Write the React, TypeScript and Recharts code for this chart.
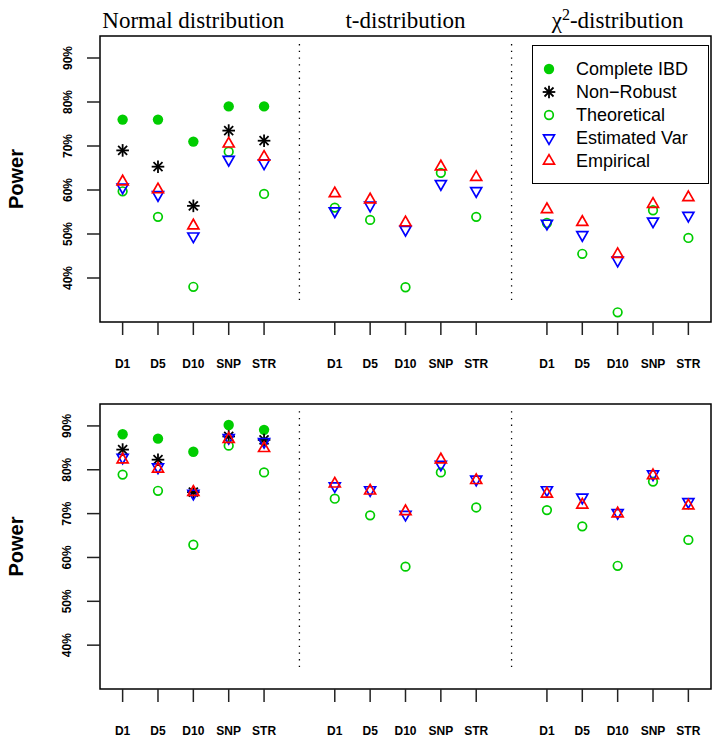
import React from 'react';
import { ScatterChart, Scatter, XAxis, YAxis, ReferenceArea, ReferenceLine, ReferenceDot, Legend } from 'recharts';

const categories = ['D1', 'D5', 'D10', 'SNP', 'STR'];
const distributions = ['Normal distribution', 't-distribution', 'χ2-distribution'];
const yTicks = [40, 50, 60, 70, 80, 90];

// upper panel (one array per distribution: normal, t, chi-square)
const upperCompleteIBD = [76, 76, 71, 79, 79];
const upperNonRobust = [69, 65.3, 56.4, 73.5, 71.2];
const upperTheoretical = [
  [59.7, 53.9, 38.0, 68.7, 59.1],
  [56.0, 53.2, 37.9, 63.9, 53.9],
  [52.5, 45.5, 32.2, 55.4, 49.1],
];
const upperEstimatedVar = [
  [60.6, 58.9, 49.5, 66.9, 66.1],
  [55.2, 56.5, 51.0, 61.4, 59.8],
  [52.4, 49.8, 44.0, 52.9, 54.2],
];
const upperEmpirical = [
  [61.9, 60.1, 51.9, 70.5, 67.5],
  [59.2, 57.8, 52.6, 65.3, 62.9],
  [55.6, 52.7, 45.4, 56.8, 58.3],
];

// lower panel
const lowerCompleteIBD = [88.1, 87.1, 84.1, 90.2, 89.1];
const lowerNonRobust = [84.6, 82.3, 74.9, 87.6, 86.8];
const lowerTheoretical = [
  [78.9, 75.2, 62.9, 85.5, 79.4],
  [73.4, 69.6, 57.9, 79.4, 71.4],
  [70.8, 67.1, 58.1, 77.3, 64.0],
];
const lowerEstimatedVar = [
  [82.8, 80.6, 74.6, 87.3, 86.4],
  [76.3, 75.4, 69.8, 81.2, 77.8],
  [75.4, 73.7, 70.2, 79.0, 72.7],
];
const lowerEmpirical = [
  [82.3, 80.2, 74.9, 87.0, 84.9],
  [76.8, 75.2, 70.5, 82.3, 77.6],
  [74.5, 72.0, 70.0, 78.7, 71.8],
];

const GREEN = '#00CD00';
const SANS = '"Liberation Sans", Arial, sans-serif';
const SERIF = '"Liberation Serif", "Times New Roman", serif';

// x position: 5 categories per group, one empty slot between groups
const xPos = (g: number, i: number) => g * 6 + i + 1;
const toPoints = (groups: number[][]) =>
  groups.flatMap((vals, g) => vals.map((v, i) => ({ x: xPos(g, i), y: v })));

const xTicks = distributions.flatMap((_, g) => categories.map((_, i) => xPos(g, i)));
const dividers = [6, 12];

const FilledDot = ({ cx, cy }: any) => <circle cx={cx} cy={cy} r={5.2} fill={GREEN} />;
const OpenDot = ({ cx, cy }: any) => (
  <circle cx={cx} cy={cy} r={4.3} fill="none" stroke={GREEN} strokeWidth={1.7} />
);
const Star = ({ cx, cy }: any) => {
  const a = 6.3;
  const b = 4.5;
  return (
    <g stroke="#000" strokeWidth={1.8}>
      <line x1={cx - a} y1={cy} x2={cx + a} y2={cy} />
      <line x1={cx} y1={cy - a} x2={cx} y2={cy + a} />
      <line x1={cx - b} y1={cy - b} x2={cx + b} y2={cy + b} />
      <line x1={cx - b} y1={cy + b} x2={cx + b} y2={cy - b} />
    </g>
  );
};
const TriUp = ({ cx, cy }: any) => (
  <polygon
    points={`${cx},${cy - 6.4} ${cx + 5.5},${cy + 3.2} ${cx - 5.5},${cy + 3.2}`}
    fill="none"
    stroke="#FF0000"
    strokeWidth={1.7}
  />
);
const TriDown = ({ cx, cy }: any) => (
  <polygon
    points={`${cx},${cy + 6.4} ${cx + 5.5},${cy - 3.2} ${cx - 5.5},${cy - 3.2}`}
    fill="none"
    stroke="#0000FF"
    strokeWidth={1.7}
  />
);

const legendItems = [
  { label: 'Complete IBD', Shape: FilledDot },
  { label: 'Non\u2212Robust', Shape: Star },
  { label: 'Theoretical', Shape: OpenDot },
  { label: 'Estimated Var', Shape: TriDown },
  { label: 'Empirical', Shape: TriUp },
];

const renderLegend = () => (
  <div style={{ width: 177, height: 139, border: '1.5px solid #000', boxSizing: 'border-box', background: '#fff' }}>
    <svg width={174} height={136}>
      {legendItems.map((it, i) => (
        <g key={it.label}>
          <it.Shape cx={16} cy={23 + i * 23} />
          <text x={43} y={23 + i * 23 + 6.4} fontFamily={SANS} fontSize={18} fill="#000">
            {it.label}
          </text>
        </g>
      ))}
    </svg>
  </div>
);

const XTick = ({ x, y, payload }: any) => (
  <text x={x} y={y + 31} textAnchor="middle" fontFamily={SANS} fontWeight="bold" fontSize={12} fill="#000">
    {categories[(payload.value - 1) % 6]}
  </text>
);

const YTick = ({ x, y, payload }: any) => (
  <text
    x={x - 13.5}
    y={y}
    transform={`rotate(-90, ${x - 13.5}, ${y})`}
    textAnchor="middle"
    fontFamily={SANS}
    fontWeight="bold"
    fontSize={12}
    fill="#000"
  >
    {payload.value}%
  </text>
);

const TitleLabel = ({ viewBox, name }: any) => {
  const x = viewBox.x + viewBox.width / 2;
  const y = viewBox.y - 8;
  if (name.startsWith('χ2')) {
    return (
      <text x={x} y={y} textAnchor="middle" fontFamily={SERIF} fontSize={23} fill="#000">
        <tspan>χ</tspan>
        <tspan dy={-8} fontSize={16}>2</tspan>
        <tspan dy={8}>{name.slice(2)}</tspan>
      </text>
    );
  }
  return (
    <text x={x} y={y} textAnchor="middle" fontFamily={SERIF} fontSize={23} fill="#000">
      {name}
    </text>
  );
};

const PowerLabel = ({ viewBox }: any) => {
  const cy = viewBox.y + viewBox.height / 2;
  return (
    <text x={23} y={cy} transform={`rotate(-90, 23, ${cy})`} textAnchor="middle" fontFamily={SANS} fontWeight="bold" fontSize={20} fill="#000">
      Power
    </text>
  );
};

interface PanelProps {
  height: number;
  top: number;
  bottomAxis: number;
  complete: number[];
  nonRobust: number[];
  theoretical: number[][];
  estimated: number[][];
  empirical: number[][];
  showTitles?: boolean;
  showLegend?: boolean;
}

const Panel: React.FC<PanelProps> = (p) => (
  <ScatterChart width={724} height={p.height} margin={{ top: p.top, right: 13, bottom: 0, left: 0 }}>
    <XAxis
      type="number"
      dataKey="x"
      domain={[0.36, 17.64]}
      ticks={xTicks}
      interval={0}
      height={p.bottomAxis}
      axisLine={false}
      tickSize={13}
      tickLine={{ stroke: '#222', strokeWidth: 1.5 }}
      tick={<XTick />}
    />
    <YAxis
      type="number"
      dataKey="y"
      domain={[30, 95]}
      ticks={yTicks}
      width={100}
      axisLine={false}
      tickSize={13}
      tickLine={{ stroke: '#222', strokeWidth: 1.5 }}
      tick={<YTick />}
      label={<PowerLabel />}
    />
    <ReferenceArea x1={0.36} x2={17.64} y1={30} y2={95} fill="none" stroke="#000" strokeWidth={1.5} />
    {dividers.map((d) => (
      <ReferenceLine
        key={d}
        segment={[{ x: d, y: 35 }, { x: d, y: 93.5 }]}
        stroke="#000"
        strokeWidth={1.3}
        strokeDasharray="1.3 5.4"
      />
    ))}
    {p.showTitles &&
      distributions.map((name, g) => (
        <ReferenceDot
          key={name}
          x={xPos(g, 2)}
          y={95}
          r={0}
          fill="none"
          stroke="none"
          ifOverflow="visible"
          label={<TitleLabel name={name} />}
        />
      ))}
    <Scatter data={toPoints([p.complete])} shape={<FilledDot />} isAnimationActive={false} />
    <Scatter data={toPoints([p.nonRobust])} shape={<Star />} isAnimationActive={false} />
    <Scatter data={toPoints(p.theoretical)} shape={<OpenDot />} isAnimationActive={false} />
    <Scatter data={toPoints(p.estimated)} shape={<TriDown />} isAnimationActive={false} />
    <Scatter data={toPoints(p.empirical)} shape={<TriUp />} isAnimationActive={false} />
    {p.showLegend && (
      <Legend
        layout="horizontal"
        align="center"
        verticalAlign="middle"
        content={renderLegend}
        wrapperStyle={{ left: 532, top: 45, width: 177, height: 139 }}
      />
    )}
  </ScatterChart>
);

export default function App() {
  return (
    <div style={{ width: 724, height: 747, background: '#fff', position: 'relative' }}>
      <style>{'body{margin:0}'}</style>
      <Panel
        height={374}
        top={36}
        bottomAxis={52}
        complete={upperCompleteIBD}
        nonRobust={upperNonRobust}
        theoretical={upperTheoretical}
        estimated={upperEstimatedVar}
        empirical={upperEmpirical}
        showTitles
        showLegend
      />
      <Panel
        height={373}
        top={30}
        bottomAxis={58}
        complete={lowerCompleteIBD}
        nonRobust={lowerNonRobust}
        theoretical={lowerTheoretical}
        estimated={lowerEstimatedVar}
        empirical={lowerEmpirical}
      />
    </div>
  );
}
